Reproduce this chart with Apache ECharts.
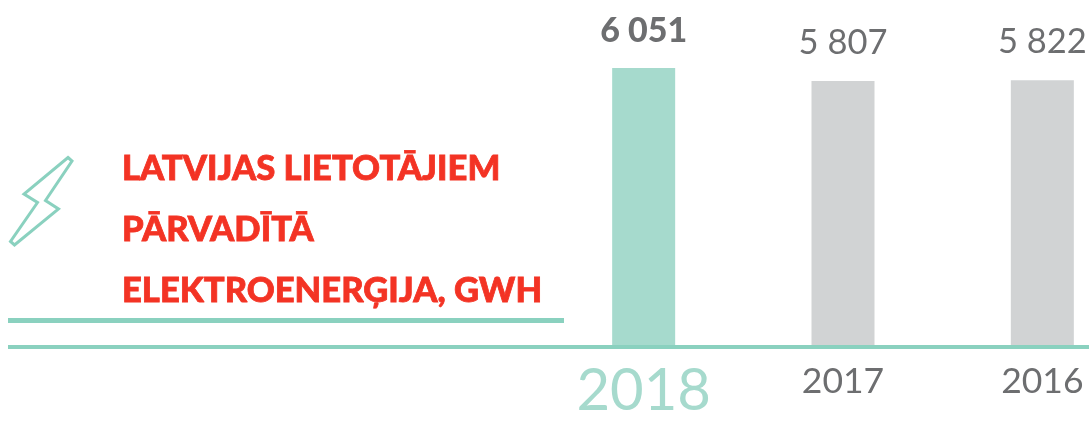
<!DOCTYPE html>
<html><head><meta charset="utf-8">
<style>html,body{margin:0;padding:0;background:#fff}#c{width:1089px;height:421px}</style>
<script src="https://cdn.jsdelivr.net/npm/echarts@6/dist/echarts.min.js"></script>
</head><body><div id="c"></div>
<script>
const years = ['2018','2017','2016'];
const values = [6051,5807,5822];
const valueLabels = ['6 051','5 807','5 822'];
const titleLines = ['LATVIJAS LIETOTĀJIEM','PĀRVADĪTĀ','ELEKTROENERĢIJA, GWH'];
const TEAL='#a6dacd', LINE='#8ad1bf', GREY='#d1d3d4', TXT='#6d6e70', RED='#f33324';
const FONT='Lato';
const chart = echarts.init(document.getElementById('c'),null,{renderer:'canvas'});
chart.setOption({
  animation:false,
  backgroundColor:'#fff',
  title:{text:titleLines.join('\n'),left:122,top:138,padding:0,
    textStyle:{fontFamily:FONT,fontWeight:900,fontSize:34.6,lineHeight:61,color:RED,textBorderColor:RED,textBorderWidth:0.8}},
  grid:{left:544,right:-53,top:68,bottom:75,outerBoundsMode:'none',containLabel:false},
  xAxis:{type:'category',data:years,axisLine:{show:false},axisTick:{show:false},
    axisLabel:{margin:13,interval:0,fontFamily:FONT,
      formatter:(v,i)=>i===0?`{a|${v}}`:`{b|${v}}`,
      rich:{a:{fontFamily:FONT,fontWeight:400,fontSize:58,color:TEAL,lineHeight:64},
            b:{fontFamily:FONT,fontWeight:400,fontSize:35.5,color:TXT,lineHeight:42,padding:[4,0,0,0]}}}},
  yAxis:{type:'value',min:830,max:6051,show:false},
  series:[{type:'bar',barWidth:63,
    data:values.map((v,i)=>({value:v,
      itemStyle:{color:i===0?TEAL:GREY},
      label:{show:true,position:'top',distance:i===0?20:21,formatter:valueLabels[i],fontFamily:FONT,
        fontSize:i===0?34:34.5,fontWeight:i===0?900:400,color:TXT}}))}],
  graphic:[
    {type:'rect',shape:{x:8,y:318,width:556,height:5},style:{fill:LINE},silent:true},
    {type:'rect',shape:{x:8,y:345,width:1081,height:4},style:{fill:LINE},silent:true,z:10},
    {type:'polygon',shape:{points:[[68,157.5],[72,161],[45.5,200.5],[58.5,209],[14.5,245],[10.5,241.5],[37.5,202.5],[24,194]]},
      style:{fill:'none',stroke:LINE,lineWidth:3},silent:true}
  ]
});
</script></body></html>
